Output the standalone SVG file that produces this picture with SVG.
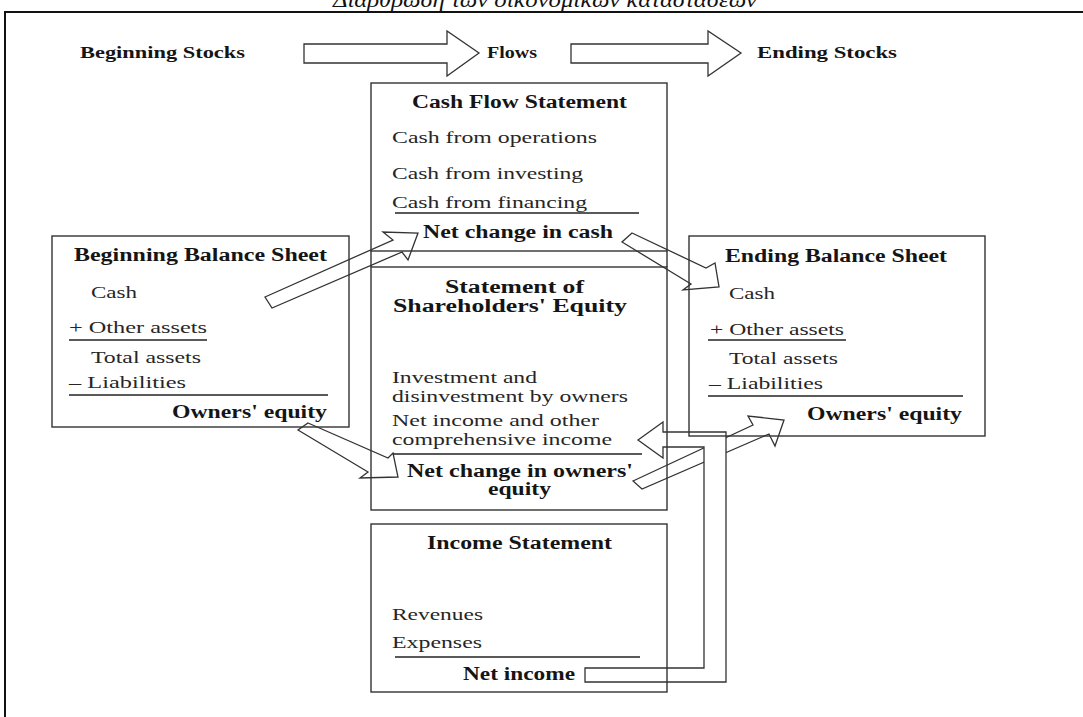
<svg xmlns="http://www.w3.org/2000/svg" width="1083" height="717" viewBox="0 0 1083 717">
<style>
text{font-family:"Liberation Serif","Times New Roman",serif;}
.t{font-style:italic;font-size:22px;fill:#111}
.b{font-weight:bold;font-size:18px;fill:#151515}
.s{font-weight:bold;font-size:17px;fill:#151515}
.r{font-size:17.5px;fill:#262626}
.box{fill:none;stroke:#333;stroke-width:1.4}
.rule{stroke:#222;stroke-width:1.5;fill:none}
.frame{stroke:#111;stroke-width:2;fill:none}
.arrow{fill:#fff;stroke:#333;stroke-width:1.3;stroke-linejoin:miter}
</style>
<rect width="1083" height="717" fill="#fff"/>
<g id="title">
<text class="t" x="333" y="7" textLength="424" lengthAdjust="spacingAndGlyphs">Διάρθρωση των οικονομικών καταστάσεων</text>
</g>
<g id="frame"><path class="frame" d="M5,717 V12 H1083"/></g>
<g id="stock-labels">
<text class="s" x="80" y="58" textLength="165" lengthAdjust="spacingAndGlyphs">Beginning Stocks</text>
<text class="s" x="487" y="58" textLength="50" lengthAdjust="spacingAndGlyphs">Flows</text>
<text class="s" x="757" y="58" textLength="140" lengthAdjust="spacingAndGlyphs">Ending Stocks</text>
</g>
<g id="connectors">
<polygon class="arrow" points="304,44 447,44 447,31 479,53 447,76 447,63 304,63"/>
<polygon class="arrow" points="571,44 708,44 708,31 741,53 708,76 708,63 571,63"/>
<polygon class="arrow" points="265,297 393,240 383,232 418,233 408,260 402,252 272,308"/>
<polygon class="arrow" points="632,233 706,268 715,263 719,287 683,290 691,284 622,242"/>
<polygon class="arrow" points="308,423 388,458 393,453 398,477 360,478 368,472 298,430"/>
<polygon class="arrow" points="633,481 753,425 748,416 784,420 775,446 769,434 642,489"/>
<polygon class="arrow" points="638,440 663,422 663,432 726,432 726,682 585,682 585,668 704,668 704,447 663,447 663,458"/>
</g>
<g id="cash-flow-statement">
<rect class="box" x="371" y="83" width="296" height="168"/>
<path class="box" d="M371,251 V267 M667,251 V267"/>
<text class="b" x="412" y="108" textLength="215" lengthAdjust="spacingAndGlyphs">Cash Flow Statement</text>
<text class="r" x="392" y="143" textLength="205" lengthAdjust="spacingAndGlyphs">Cash from operations</text>
<text class="r" x="392" y="179" textLength="191" lengthAdjust="spacingAndGlyphs">Cash from investing</text>
<text class="r" x="392" y="208" textLength="195" lengthAdjust="spacingAndGlyphs">Cash from financing</text>
<line class="rule" x1="395" y1="213" x2="639" y2="213"/>
<text class="b" x="423" y="238" textLength="190" lengthAdjust="spacingAndGlyphs">Net change in cash</text>
</g>
<g id="shareholders-equity">
<rect class="box" x="371" y="267" width="296" height="243"/>
<text class="b" x="445" y="293" textLength="139" lengthAdjust="spacingAndGlyphs">Statement of</text>
<text class="b" x="393" y="312" textLength="234" lengthAdjust="spacingAndGlyphs">Shareholders' Equity</text>
<text class="r" x="392" y="383" textLength="145" lengthAdjust="spacingAndGlyphs">Investment and</text>
<text class="r" x="392" y="402" textLength="236" lengthAdjust="spacingAndGlyphs">disinvestment by owners</text>
<text class="r" x="392" y="426" textLength="207" lengthAdjust="spacingAndGlyphs">Net income and other</text>
<text class="r" x="392" y="445" textLength="220" lengthAdjust="spacingAndGlyphs">comprehensive income</text>
<line class="rule" x1="393" y1="454" x2="642" y2="454"/>
<text class="b" x="407" y="477" textLength="226" lengthAdjust="spacingAndGlyphs">Net change in owners'</text>
<text class="b" x="488" y="495" textLength="63" lengthAdjust="spacingAndGlyphs">equity</text>
</g>
<g id="income-statement">
<rect class="box" x="371" y="524" width="296" height="168"/>
<text class="b" x="427" y="549" textLength="185" lengthAdjust="spacingAndGlyphs">Income Statement</text>
<text class="r" x="392" y="620" textLength="91" lengthAdjust="spacingAndGlyphs">Revenues</text>
<text class="r" x="392" y="648" textLength="90" lengthAdjust="spacingAndGlyphs">Expenses</text>
<line class="rule" x1="395" y1="657" x2="640" y2="657"/>
<text class="b" x="463" y="680" textLength="112" lengthAdjust="spacingAndGlyphs">Net income</text>
</g>
<g id="beginning-balance-sheet">
<rect class="box" x="52" y="236" width="297" height="191"/>
<text class="b" x="74" y="261" textLength="253" lengthAdjust="spacingAndGlyphs">Beginning Balance Sheet</text>
<text class="r" x="91" y="298" textLength="46" lengthAdjust="spacingAndGlyphs">Cash</text>
<text class="r" x="69" y="333" textLength="138" lengthAdjust="spacingAndGlyphs">+ Other assets</text>
<line class="rule" x1="69" y1="340" x2="207" y2="340"/>
<text class="r" x="91" y="363" textLength="110" lengthAdjust="spacingAndGlyphs">Total assets</text>
<text class="r" x="69" y="388" textLength="117" lengthAdjust="spacingAndGlyphs">– Liabilities</text>
<line class="rule" x1="69" y1="395" x2="328" y2="395"/>
<text class="b" x="172" y="418" textLength="155" lengthAdjust="spacingAndGlyphs">Owners' equity</text>
</g>
<g id="ending-balance-sheet">
<rect class="box" x="689" y="236" width="296" height="200"/>
<text class="b" x="725" y="262" textLength="222" lengthAdjust="spacingAndGlyphs">Ending Balance Sheet</text>
<text class="r" x="729" y="299" textLength="46" lengthAdjust="spacingAndGlyphs">Cash</text>
<text class="r" x="710" y="335" textLength="134" lengthAdjust="spacingAndGlyphs">+ Other assets</text>
<line class="rule" x1="708" y1="340" x2="846" y2="340"/>
<text class="r" x="729" y="364" textLength="109" lengthAdjust="spacingAndGlyphs">Total assets</text>
<text class="r" x="709" y="389" textLength="114" lengthAdjust="spacingAndGlyphs">– Liabilities</text>
<line class="rule" x1="708" y1="396" x2="963" y2="396"/>
<text class="b" x="807" y="420" textLength="155" lengthAdjust="spacingAndGlyphs">Owners' equity</text>
</g>
</svg>
